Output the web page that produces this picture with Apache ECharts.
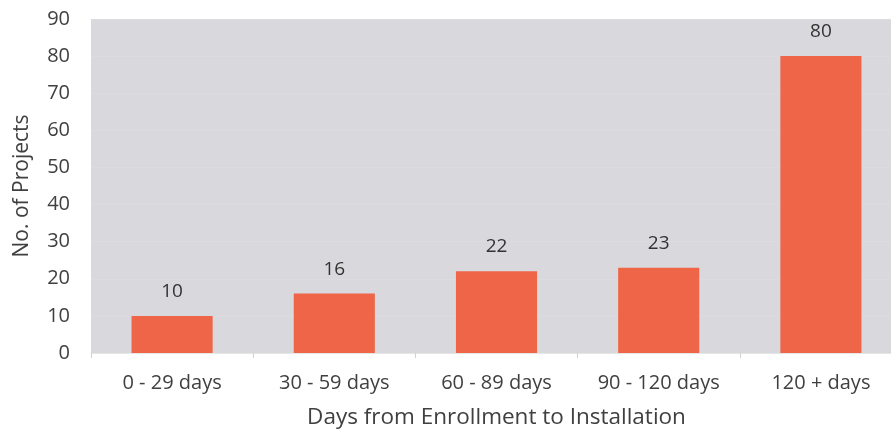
<!DOCTYPE html>
<html>
<head>
<meta charset="utf-8">
<script src="https://cdn.jsdelivr.net/npm/echarts@6/dist/echarts.min.js"></script>
<style>
html,body{margin:0;padding:0;background:#fff;}
#chart{width:891px;height:436px;}
</style>
</head>
<body>
<div id="chart"></div>
<script>
const categories = ['0 - 29 days', '30 - 59 days', '60 - 89 days', '90 - 120 days', '120 + days'];
const projectCounts = [10, 16, 22, 23, 80];
const yTicks = [0, 10, 20, 30, 40, 50, 60, 70, 80, 90];

const font = 'Open Sans, Noto Sans, sans-serif';
const chart = echarts.init(document.getElementById('chart'));
chart.setOption({
  animation: false,
  grid: {
    left: 91, width: 811, top: 19, bottom: 83,
    outerBoundsMode: 'none',
    show: true, backgroundColor: '#d9d9dd', borderWidth: 0
  },
  xAxis: {
    type: 'category',
    data: categories,
    name: 'Days from Enrollment to Installation',
    nameLocation: 'middle',
    nameGap: 53,
    nameTextStyle: { fontFamily: font, fontSize: 22.5, color: '#404040' },
    axisLine: { show: true, lineStyle: { color: '#e6e6e6' } },
    axisTick: { show: true, length: 5, lineStyle: { color: '#d0d0d0' } },
    axisLabel: { fontFamily: font, fontSize: 20, color: '#404040', margin: 20 }
  },
  yAxis: {
    type: 'value',
    min: yTicks[0],
    max: yTicks[yTicks.length - 1],
    interval: 10,
    name: 'No. of Projects',
    nameLocation: 'middle',
    nameGap: 58,
    nameTextStyle: { fontFamily: font, fontSize: 21, color: '#404040' },
    axisLine: { show: false },
    axisTick: { show: false },
    splitLine: { show: true, lineStyle: { color: '#dcdce0', width: 1 } },
    axisLabel: { fontFamily: font, fontSize: 20, color: '#404040', margin: 21 }
  },
  series: [{
    type: 'bar',
    data: projectCounts,
    barWidth: '50%',
    itemStyle: { color: '#ef6547' },
    label: {
      show: true,
      position: 'top',
      distance: 15,
      fontFamily: font,
      fontSize: 19,
      color: '#333333'
    }
  }]
});
</script>
</body>
</html>
